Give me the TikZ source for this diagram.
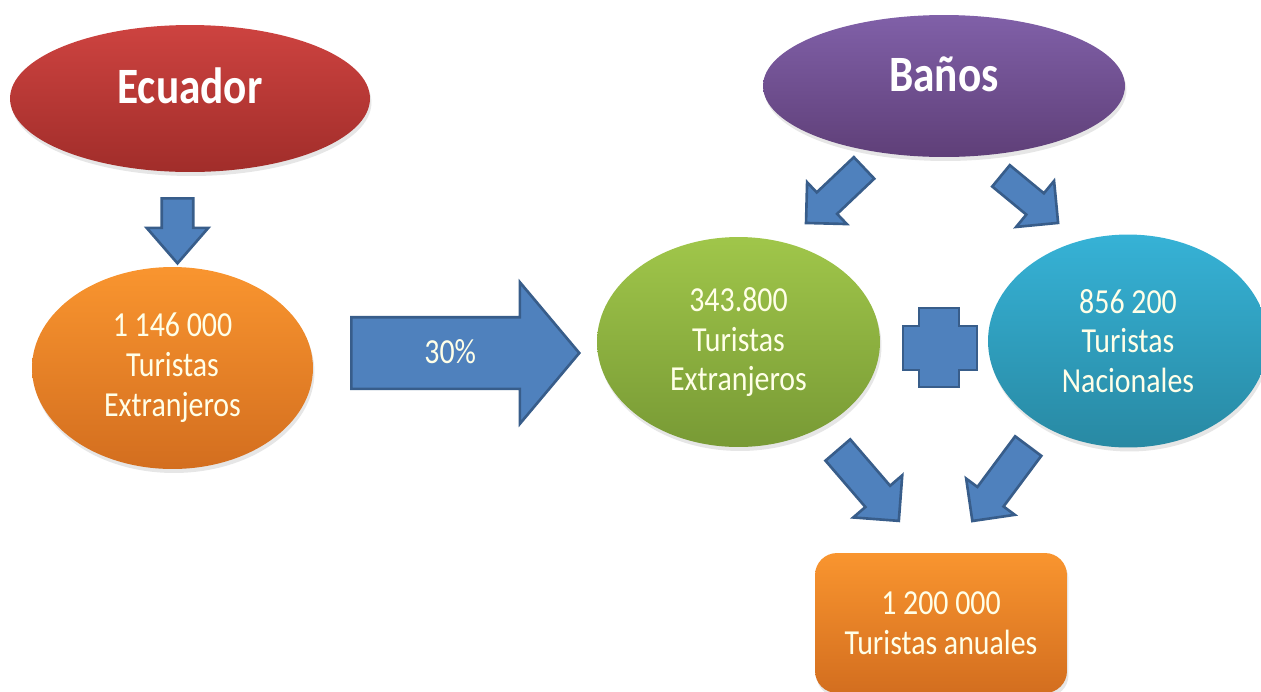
\documentclass[tikz,border=0pt]{standalone}
\usepackage{fontspec}
\setmainfont{Carlito}[FakeStretch=0.85]
\usetikzlibrary{%
        shapes.arrows,
        shapes.geometric,
        shadows
    }
\definecolor{ecuadortop}{HTML}{CD4340}
\definecolor{ecuadorbot}{HTML}{A12D2A}
\definecolor{banostop}{HTML}{8060A8}
\definecolor{banosbot}{HTML}{5F3F78}
\definecolor{orangetop}{HTML}{F9952F}
\definecolor{orangebot}{HTML}{D36E1F}
\definecolor{greentop}{HTML}{A0C64A}
\definecolor{greenbot}{HTML}{789A35}
\definecolor{cyantop}{HTML}{36B2D6}
\definecolor{cyanbot}{HTML}{2889A3}
\definecolor{arrowblue}{HTML}{4F81BD}
\definecolor{arrowedge}{HTML}{385D8A}
\definecolor{cream}{HTML}{FFFFE8}
\tikzset{
    title/.style={ellipse, inner sep=0pt, text=white,
        font=\fontsize{29}{34}\selectfont\bfseries,
        text height=0.6cm, text depth=0.4cm,
        drop shadow={opacity=0.2, shadow xshift=0.03cm, shadow yshift=-0.08cm}},
    bubble/.style={ellipse, inner sep=0pt, text=cream, align=center,
        font=\fontsize{20}{22.7}\selectfont,
        drop shadow={opacity=0.2, shadow xshift=0.03cm, shadow yshift=-0.08cm}},
    blockarrow/.style={single arrow, fill=arrowblue, draw=arrowedge,
        line width=1.5pt, anchor=tail, text height=0pt, text depth=0pt,
        inner xsep=0pt, inner ysep=0.15cm, single arrow head extend=0.3cm}
}

\begin{document}
\begin{tikzpicture}[x=0.02cm, y=-0.02cm]

    \useasboundingbox (0, 0) rectangle (1261, 691);

    \node[title, minimum width=7.2cm, minimum height=2.94cm,
        top color=ecuadortop, bottom color=ecuadorbot]
        (ecuador) at (190, 98.5) {Ecuador};
    \node[title, minimum width=7.24cm, minimum height=2.84cm,
        top color=banostop, bottom color=banosbot]
        (banos) at (944, 86) {Baños};

    \node[bubble, minimum width=5.62cm, minimum height=4.04cm,
        top color=orangetop, bottom color=orangebot]
        (pais) at (172.5, 368) {1 146 000\\Turistas\\Extranjeros};
    \node[bubble, minimum width=5.66cm, minimum height=4.2cm,
        top color=greentop, bottom color=greenbot]
        (extranjeros) at (738.5, 342) {343.800\\Turistas\\Extranjeros};
    \node[bubble, minimum width=5.6cm, minimum height=4.26cm,
        top color=cyantop, bottom color=cyanbot]
        (nacionales) at (1128, 341) {856 200\\Turistas\\Nacionales};

    \node[rectangle, rounded corners=0.44cm, minimum width=5.04cm,
        minimum height=2.8cm, top color=orangetop, bottom color=orangebot,
        text=cream, align=center, font=\fontsize{20}{22.7}\selectfont,
        drop shadow={opacity=0.2, shadow xshift=0.03cm, shadow yshift=-0.08cm}]
        (anuales) at (941, 623) {1 200 000\\Turistas anuales};

    % plus sign
    \filldraw[fill=arrowblue, draw=arrowedge, line width=1.5pt]
        (919, 308) -- (959, 308) -- (959, 326) -- (977, 326) --
        (977, 370) -- (959, 370) -- (959, 387) -- (919, 387) --
        (919, 370) -- (903, 370) -- (903, 326) -- (919, 326) -- cycle;

    % block arrows
    \node[blockarrow, rotate=-90, minimum height=1.3cm,
        inner ysep=0.29cm, single arrow head extend=0.3cm,
        single arrow tip angle=82] (down) at (177.5, 197) {};
    \node[blockarrow, rotate=-136.5, minimum height=1.6cm,
        inner ysep=0.27cm, single arrow head extend=0.28cm]
        (toextranjeros) at (865, 167) {};
    \node[blockarrow, rotate=-39.5, minimum height=1.48cm,
        inner ysep=0.25cm, single arrow head extend=0.32cm]
        (tonacionales) at (1000, 175) {};
    \node[blockarrow, rotate=-49.3, minimum height=1.87cm,
        inner ysep=0.3cm, single arrow head extend=0.32cm]
        (sumaleft) at (837, 449) {};
    \node[blockarrow, rotate=-126.7, minimum height=1.87cm,
        inner ysep=0.3cm, single arrow head extend=0.28cm]
        (sumaright) at (1029, 445) {};

    \node[blockarrow, minimum height=4.56cm, text height=0.42cm,
        inner ysep=0.48cm, single arrow head extend=0.7cm,
        single arrow tip angle=100, text=cream,
        font=\fontsize{20}{22.7}\selectfont]
        (porcentaje) at (350, 353) {30\%};

\end{tikzpicture}
\end{document}
